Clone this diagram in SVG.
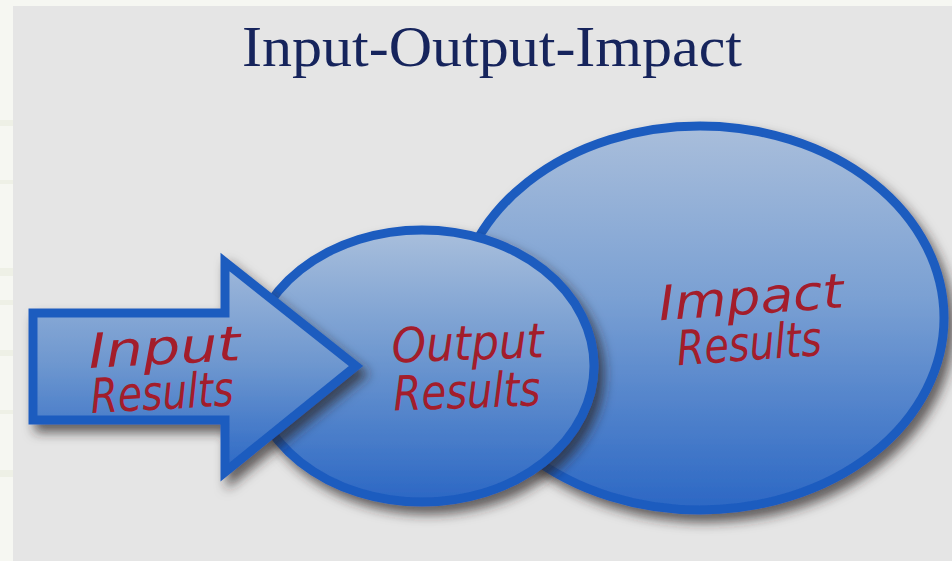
<svg xmlns="http://www.w3.org/2000/svg" width="952" height="561" viewBox="0 0 952 561">
  <style>
    .shape { stroke: #1e5cbf; stroke-width: 9; stroke-linejoin: miter; filter: url(#shadow); }
    .hand { font-family: "DejaVu Sans", "Liberation Sans", sans-serif; font-style: italic; font-size: 48px; fill: #a31d2b; }
    .title { font-family: "Liberation Serif", "Times New Roman", serif; font-size: 58px; fill: #16245c; }
  </style>
  <defs>
    <linearGradient id="gBig" x1="0" y1="0" x2="0" y2="1">
      <stop offset="0" stop-color="#a9bedb"/>
      <stop offset="0.45" stop-color="#7aa0d3"/>
      <stop offset="1" stop-color="#2b67c4"/>
    </linearGradient>
    <linearGradient id="gOut" x1="0" y1="0" x2="0" y2="1">
      <stop offset="0" stop-color="#a9bfdc"/>
      <stop offset="0.45" stop-color="#7099d0"/>
      <stop offset="1" stop-color="#2b67c4"/>
    </linearGradient>
    <linearGradient id="gArrow" x1="0" y1="0" x2="0" y2="1">
      <stop offset="0" stop-color="#9fb8da"/>
      <stop offset="0.5" stop-color="#6c96cf"/>
      <stop offset="1" stop-color="#2c68c5"/>
    </linearGradient>
    <filter id="shadow" x="-10%" y="-10%" width="125%" height="130%">
      <feDropShadow dx="6" dy="8" stdDeviation="6" flood-color="#2a2420" flood-opacity="0.7"/>
    </filter>
  </defs>

  <!-- background -->
  <rect x="0" y="0" width="952" height="561" fill="#f6f7f2"/>
  <g fill="#eef0e6">
    <rect x="0" y="120" width="13" height="6"/>
    <rect x="0" y="180" width="13" height="4"/>
    <rect x="0" y="268" width="13" height="8"/>
    <rect x="0" y="300" width="13" height="5"/>
    <rect x="0" y="350" width="13" height="6"/>
    <rect x="0" y="410" width="13" height="4"/>
    <rect x="0" y="470" width="13" height="7"/>
  </g>
  <rect x="13" y="6" width="939" height="555" fill="#e5e5e5"/>

  <g id="title">
    <text class="title" x="242" y="66" textLength="500" lengthAdjust="spacingAndGlyphs">Input-Output-Impact</text>
  </g>

  <g id="connectors"/>

  <g id="node-impact">
    <ellipse class="shape" cx="700" cy="318" rx="244" ry="192" fill="url(#gBig)"/>
    <g transform="rotate(-4 750 320)">
      <text class="hand" x="660" y="314" textLength="185" lengthAdjust="spacingAndGlyphs">Impact</text>
      <text class="hand" x="675" y="360" textLength="145" lengthAdjust="spacingAndGlyphs">Results</text>
    </g>
  </g>

  <g id="node-output">
    <ellipse class="shape" cx="422" cy="366" rx="172" ry="136" fill="url(#gOut)"/>
    <g transform="rotate(-2 465 380)">
      <text class="hand" x="393" y="360" textLength="152" lengthAdjust="spacingAndGlyphs">Output</text>
      <text class="hand" x="393" y="408" textLength="147" lengthAdjust="spacingAndGlyphs">Results</text>
    </g>
  </g>

  <g id="node-input">
    <polygon class="shape" points="33,313 225,313 225,262 356,366 225,472 225,420 33,420" fill="url(#gArrow)"/>
    <g transform="rotate(-3 165 380)">
      <text class="hand" x="90" y="364" textLength="152" lengthAdjust="spacingAndGlyphs">Input</text>
      <text class="hand" x="90" y="409" textLength="143" lengthAdjust="spacingAndGlyphs">Results</text>
    </g>
  </g>
</svg>
